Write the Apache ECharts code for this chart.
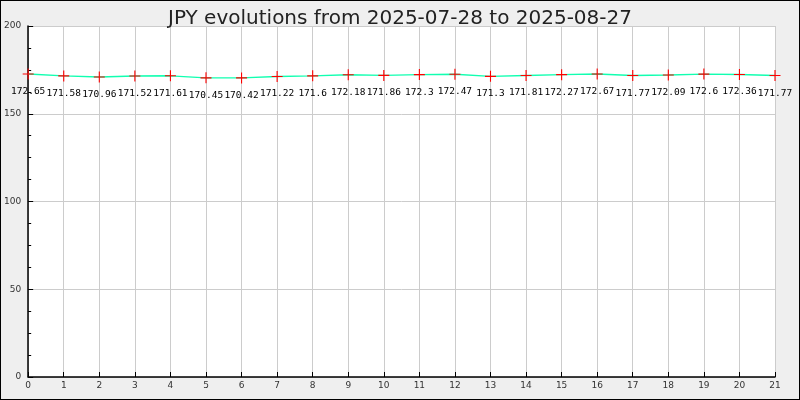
<!DOCTYPE html>
<html><head><meta charset="utf-8">
<script src="https://cdn.jsdelivr.net/npm/echarts@6/dist/echarts.min.js"></script>
<style>html,body{margin:0;padding:0;}#c{width:800px;height:400px;box-sizing:border-box;border:1px solid #000;background:#efefef;}</style>
</head><body><div id="c"></div>
<script>
const titleText = 'JPY evolutions from 2025-07-28 to 2025-08-27';
const xIndex = [0,1,2,3,4,5,6,7,8,9,10,11,12,13,14,15,16,17,18,19,20,21];
const jpyValues = [172.65,171.58,170.96,171.52,171.61,170.45,170.42,171.22,171.6,172.18,171.86,172.3,172.47,171.3,171.81,172.27,172.67,171.77,172.09,172.6,172.36,171.77];
const yTicks = [0,50,100,150,200];

const chart = echarts.init(document.getElementById('c'), null, {renderer:'canvas'});
chart.setOption({
  animation:false,
  backgroundColor:'transparent',
  title:{text:titleText,left:'center',top:3,textStyle:{fontFamily:'DejaVu Sans',fontSize:20,fontWeight:'normal',color:'#222'}},
  grid:{left:25,right:24,top:25,bottom:22,show:true,backgroundColor:'#fff',borderWidth:0},
  xAxis:{type:'value',min:0,max:21,interval:1,
    axisLine:{show:true,onZero:false,lineStyle:{color:'#000',width:1.5}},
    axisTick:{show:true,inside:true,length:5,lineStyle:{color:'#000'}},
    axisLabel:{fontFamily:'DejaVu Sans',fontSize:9,color:'#333',margin:4},
    splitLine:{show:true,lineStyle:{color:'#ccc',width:1}}},
  yAxis:{type:'value',min:yTicks[0],max:yTicks[yTicks.length-1],interval:50,
    axisLine:{show:true,lineStyle:{color:'#000',width:1.5}},
    axisTick:{show:true,inside:true,length:5,lineStyle:{color:'#000'}},
    minorTick:{show:true,splitNumber:4,length:3,lineStyle:{color:'#000'}},
    axisLabel:{fontFamily:'DejaVu Sans',fontSize:9,color:'#333',margin:7},
    splitLine:{show:true,lineStyle:{color:'#ccc',width:1}}},
  series:[{type:'line',data:xIndex.map((x,i)=>[x,jpyValues[i]]),
    lineStyle:{color:'#11ffb0',width:1.4},
    symbol:'path://M0,4.5H10V5.5H0Z M4.5,0H5.5V10H4.5Z',symbolSize:[11,11],showAllSymbol:true,
    itemStyle:{color:'#ff0000',borderWidth:0},
    label:{show:true,position:'bottom',distance:7,fontFamily:'DejaVu Sans Mono',fontSize:9.5,color:'#000',
      formatter:p=>String(p.value[1])}}]
});
</script></body></html>
